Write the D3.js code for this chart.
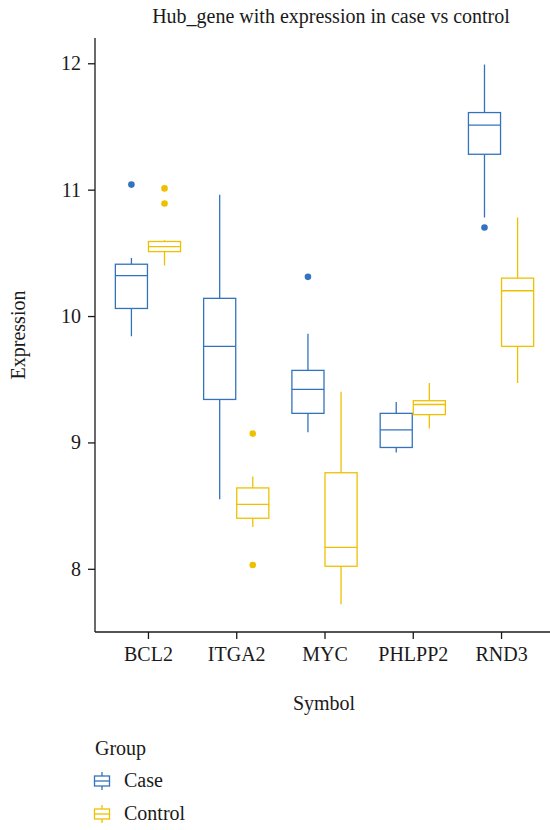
<!DOCTYPE html>
<html>
<head>
<style>
body{
    margin: 0;
    background: white;
}
text{
    font-family: "Liberation Serif", "DejaVu Serif", serif;
    fill: #1a1a1a;
}
</style>
<script src="https://d3js.org/d3.v7.min.js"></script>
</head>
<body>
<script>
var genes = ["BCL2", "ITGA2", "MYC", "PHLPP2", "RND3"]
var groups = ["Case", "Control"]
var colors = ["#3373BE", "#EFC000"]

// box stats, one value per gene
var caseLow = [9.84, 8.55, 9.08, 8.92, 10.78]
var caseQ1 = [10.06, 9.34, 9.23, 8.96, 11.28]
var caseMed = [10.32, 9.76, 9.42, 9.10, 11.51]
var caseQ3 = [10.41, 10.14, 9.57, 9.23, 11.61]
var caseHigh = [10.46, 10.96, 9.86, 9.32, 11.99]
var caseOut = [[11.04], [], [10.31], [], [10.70]]

var ctrlLow = [10.40, 8.33, 7.72, 9.11, 9.47]
var ctrlQ1 = [10.51, 8.40, 8.02, 9.22, 9.76]
var ctrlMed = [10.55, 8.51, 8.17, 9.30, 10.20]
var ctrlQ3 = [10.59, 8.64, 8.76, 9.33, 10.30]
var ctrlHigh = [10.60, 8.73, 9.40, 9.47, 10.78]
var ctrlOut = [[11.01, 10.89], [9.07, 8.03], [], [], []]

var yTicks = [8, 9, 10, 11, 12]

var w = 550
var h = 830
var pLeft = 95, pRight = 554, pTop = 38, pBottom = 632

var svg = d3.select("body")
            .append("svg")
            .attr("width", w)
            .attr("height", h)

// ggplot style discrete expansion of 0.6 on each side
var step = (pRight - pLeft) / (genes.length + 0.2)
var xScale = d3.scalePoint()
               .domain(genes)
               .range([pLeft + 0.6 * step, pRight - 0.6 * step])

var yScale = d3.scaleLinear()
               .domain([7.5, 12.2])
               .range([pBottom, pTop])

var boxW = step * 0.375
var offset = [-boxW / 2, boxW / 2]

var data = []
genes.forEach(function(g, i){
    data.push({gene: g, grp: 0, low: caseLow[i], q1: caseQ1[i], med: caseMed[i], q3: caseQ3[i], high: caseHigh[i], out: caseOut[i]})
    data.push({gene: g, grp: 1, low: ctrlLow[i], q1: ctrlQ1[i], med: ctrlMed[i], q3: ctrlQ3[i], high: ctrlHigh[i], out: ctrlOut[i]})
})

var boxes = svg.selectAll("g.box")
               .data(data)
               .enter()
               .append("g")
               .attr("class", "box")
               .attr("transform", function(d){
                   return "translate(" + (xScale(d.gene) + offset[d.grp]) + ",0)"
               })
               .attr("stroke", function(d){ return colors[d.grp] })
               .attr("stroke-width", 1.3)
               .attr("fill", "none")

boxes.append("line")
     .attr("x1", 0).attr("x2", 0)
     .attr("y1", function(d){ return yScale(d.high) })
     .attr("y2", function(d){ return yScale(d.q3) })

boxes.append("line")
     .attr("x1", 0).attr("x2", 0)
     .attr("y1", function(d){ return yScale(d.q1) })
     .attr("y2", function(d){ return yScale(d.low) })

boxes.append("rect")
     .attr("x", -boxW / 2 + 0.5)
     .attr("width", boxW - 1)
     .attr("y", function(d){ return yScale(d.q3) })
     .attr("height", function(d){ return yScale(d.q1) - yScale(d.q3) })
     .attr("fill", "white")

boxes.append("line")
     .attr("x1", -boxW / 2 + 0.5).attr("x2", boxW / 2 - 0.5)
     .attr("y1", function(d){ return yScale(d.med) })
     .attr("y2", function(d){ return yScale(d.med) })

boxes.selectAll("circle")
     .data(function(d){ return d.out.map(function(v){ return {v: v, grp: d.grp} }) })
     .enter()
     .append("circle")
     .attr("cx", 0)
     .attr("cy", function(d){ return yScale(d.v) })
     .attr("r", 3.3)
     .attr("stroke", "none")
     .attr("fill", function(d){ return colors[d.grp] })

// axes
var yAxis = d3.axisLeft(yScale)
              .tickValues(yTicks)
              .tickFormat(d3.format("d"))
              .tickSize(7)
              .tickPadding(7)

var xAxis = d3.axisBottom(xScale)
              .tickSize(7)
              .tickPadding(8)

var gy = svg.append("g")
            .attr("transform", "translate(" + pLeft + ",0)")
            .call(yAxis)
gy.select(".domain").attr("d", "M0," + pTop + "V" + pBottom)

var gx = svg.append("g")
            .attr("transform", "translate(0," + pBottom + ")")
            .call(xAxis)
gx.select(".domain").attr("d", "M" + pLeft + ",0H" + pRight)

svg.selectAll(".tick text")
   .attr("font-size", "20px")
   .attr("fill", "#1a1a1a")
svg.selectAll(".domain, .tick line")
   .attr("stroke", "#1a1a1a")
   .attr("stroke-width", 1.3)

// titles
svg.append("text")
   .attr("x", 331)
   .attr("y", 23)
   .attr("text-anchor", "middle")
   .attr("font-size", "20px")
   .text("Hub_gene with expression in case vs control")

svg.append("text")
   .attr("transform", "translate(25,335) rotate(-90)")
   .attr("text-anchor", "middle")
   .attr("font-size", "20px")
   .text("Expression")

svg.append("text")
   .attr("x", 324)
   .attr("y", 710)
   .attr("text-anchor", "middle")
   .attr("font-size", "20px")
   .text("Symbol")

// legend
svg.append("text")
   .attr("x", 95)
   .attr("y", 755)
   .attr("font-size", "20px")
   .text("Group")

var leg = svg.selectAll("g.leg")
             .data(groups)
             .enter()
             .append("g")
             .attr("class", "leg")
             .attr("transform", function(d, i){
                 return "translate(93," + (772 + i * 33) + ")"
             })

leg.append("line")
   .attr("x1", 9).attr("x2", 9)
   .attr("y1", 0).attr("y2", 18)
   .attr("stroke", function(d, i){ return colors[i] })
   .attr("stroke-width", 1.3)

leg.append("rect")
   .attr("x", 1.5).attr("y", 4)
   .attr("width", 15).attr("height", 10)
   .attr("fill", "white")
   .attr("stroke", function(d, i){ return colors[i] })
   .attr("stroke-width", 1.3)

leg.append("line")
   .attr("x1", 1.5).attr("x2", 16.5)
   .attr("y1", 9).attr("y2", 9)
   .attr("stroke", function(d, i){ return colors[i] })
   .attr("stroke-width", 1.3)

leg.append("text")
   .attr("x", 31)
   .attr("y", 15)
   .attr("font-size", "20px")
   .text(function(d){ return d })
</script>
</body>
</html>
